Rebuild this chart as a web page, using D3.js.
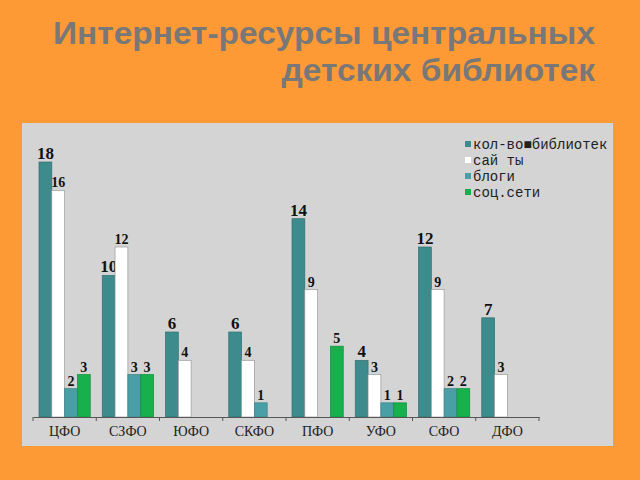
<!DOCTYPE html>
<html><head><meta charset="utf-8">
<script src="https://cdn.jsdelivr.net/npm/d3@7"></script>
<style>html,body{margin:0;padding:0;background:#fd9a35;}svg{display:block;}</style>
</head><body>
<svg id="c" width="640" height="480"></svg>
<script>
const titleLines = ["Интернет-ресурсы центральных", "детских библиотек"];
const categories = ["ЦФО","СЗФО","ЮФО","СКФО","ПФО","УФО","СФО","ДФО"];
const seriesNames = ["кол-во■библиотек","сай ты","блоги","соц.сети"];
const libraries = [18,10,6,6,14,4,12,7];
const sites     = [16,12,4,4,9,3,9,3];
const blogs     = [2,3,0,1,0,1,2,0];
const social    = [3,3,0,0,5,1,2,0];
const seriesValues = [libraries, sites, blogs, social];
const colors = ["#3d8b8d","#ffffff","#4a9fa6","#17b04c"];

const svg = d3.select("#c");
svg.append("rect").attr("width",640).attr("height",480).attr("fill","#fd9a35");

// title
const tt = svg.append("g")
  .attr("font-family","Liberation Sans, Arial, sans-serif").attr("font-weight","bold")
  .attr("font-size",32).attr("fill","#787878");
const tl = tt.selectAll("text").data(titleLines).join("text")
  .attr("text-anchor","end").attr("x",595).attr("y",(d,i)=>44.3+i*36.4).text(d=>d);
const w1 = tl.nodes()[0].getComputedTextLength();
const k = 542 / w1;
tl.each(function(){ const w=this.getComputedTextLength();
  d3.select(this).attr("textLength", w*k).attr("lengthAdjust","spacingAndGlyphs"); });

// panel
svg.append("rect").attr("x",22).attr("y",123).attr("width",591).attr("height",323).attr("fill","#d4d4d4");

const x0 = d3.scaleBand().domain(categories).range([33,539]).paddingInner(0).paddingOuter(0);
const x1 = d3.scaleBand().domain(d3.range(4)).range([6, x0.bandwidth()-6]).padding(0);
const y = d3.scaleLinear().domain([0,18]).range([417,162]);

const g = svg.append("g");
const groups = g.selectAll("g.cat").data(categories).join("g")
  .attr("transform",d=>`translate(${x0(d)},0)`);

const cells = groups.selectAll("g.bar").data((c,ci)=>seriesValues.map((arr,si)=>({si, v:arr[ci]}))).join("g");
cells.filter(d=>d.v>0).append("rect")
  .attr("x",d=>x1(d.si)).attr("width",x1.bandwidth())
  .attr("y",d=>y(d.v)).attr("height",d=>y(0)-y(d.v))
  .attr("fill",d=>colors[d.si])
  .attr("stroke",d=>d.si===1?"#9a9a9a":d3.color(colors[d.si]).darker(0.6))
  .attr("stroke-width",0.7);
cells.filter(d=>d.v>0).append("text")
  .attr("x",d=>x1(d.si)+x1.bandwidth()/2)
  .attr("y",d=>y(d.v)-3)
  .attr("text-anchor","middle")
  .attr("font-family","Liberation Serif, Times New Roman, serif").attr("font-weight","bold")
  .attr("font-size",d=>d.si===0?17:14).attr("fill","#111")
  .text(d=>d.v);

// x axis
const ax = svg.append("g").attr("transform",`translate(0,${y(0)})`)
  .call(d3.axisBottom(x0).tickSize(0).tickPadding(9));
ax.select(".domain").attr("stroke","#555");
ax.selectAll("text").attr("font-family","Liberation Serif, Times New Roman, serif")
  .attr("font-size",14).attr("fill","#222");
// boundary ticks
const bounds = categories.map(c=>x0(c)).concat([x0.range()[1]]);
ax.selectAll("line.b").data(bounds).join("line").attr("class","b")
  .attr("x1",d=>d).attr("x2",d=>d).attr("y1",0).attr("y2",4).attr("stroke","#555");

// legend
const lg = svg.append("g").attr("transform","translate(465,144)");
const li = lg.selectAll("g").data(seriesNames).join("g").attr("transform",(d,i)=>`translate(0,${i*16})`);
li.append("rect").attr("x",0).attr("y",-3).attr("width",6).attr("height",6)
  .attr("fill",(d,i)=>colors[i]);
li.append("text").attr("x",8).attr("y",4.5)
  .attr("font-family","Liberation Mono, Courier New, monospace").attr("font-size",14).attr("fill","#222")
  .text(d=>d);
</script>
</body></html>
